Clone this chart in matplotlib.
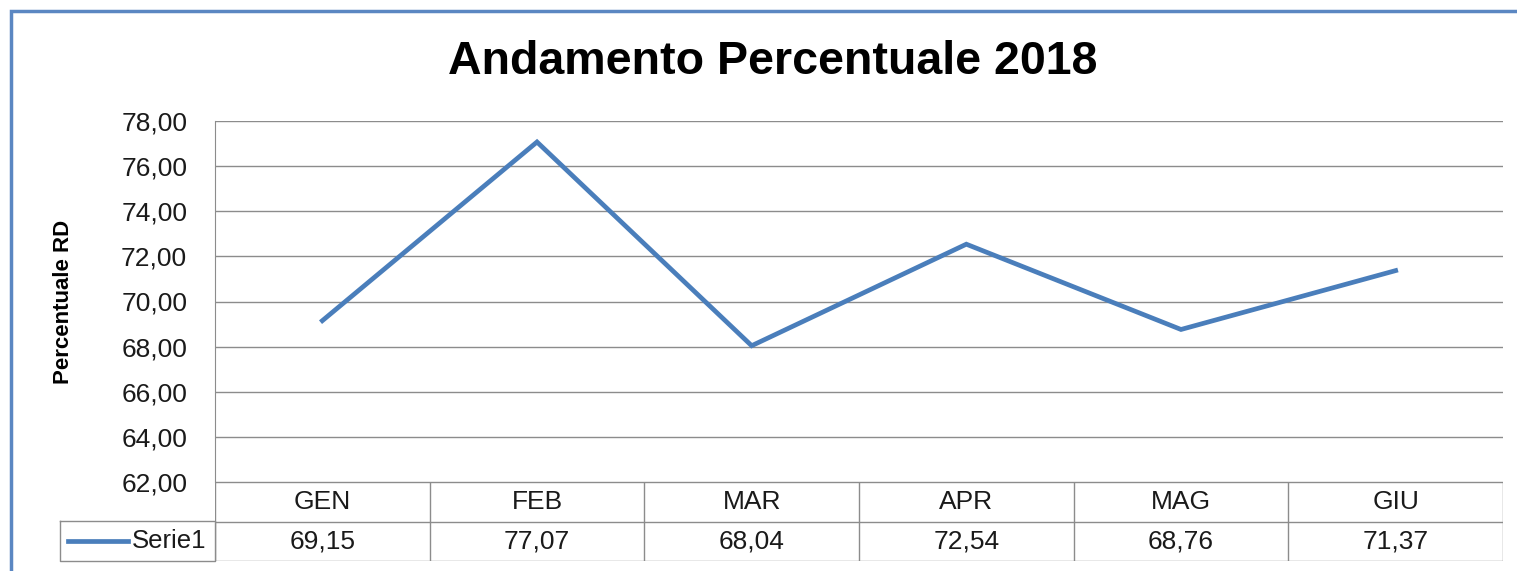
import matplotlib
matplotlib.use('Agg')
import matplotlib.pyplot as plt
from matplotlib.ticker import FuncFormatter, MultipleLocator
from matplotlib.patches import Rectangle
from matplotlib.lines import Line2D

months = ['GEN', 'FEB', 'MAR', 'APR', 'MAG', 'GIU']
serie1 = [69.15, 77.07, 68.04, 72.54, 68.76, 71.37]
series_name = 'Serie1'
title = 'Andamento Percentuale 2018'
ylabel = 'Percentuale RD'

W, H = 1517, 571
LINE_BLUE = '#4A7EBB'
GRID = '#8C8C8C'
TXT = '#1a1a1a'
FS = 19

plt.rcParams['font.family'] = 'Liberation Sans'


def fx(px):
    return px / W


def fy(py):
    return 1 - py / H


def comma(v, _=None):
    return f'{v:.2f}'.replace('.', ',')


fig = plt.figure(figsize=(W / 100, H / 100), dpi=100)

# outer chart frame (runs off the right and bottom edges)
fig.patches.append(Rectangle((fx(11), fy(700)), fx(1600), fy(11) - fy(700),
                             transform=fig.transFigure, fill=False,
                             edgecolor='#5B87C2', linewidth=2.5))

left, right, top, bottom, tbl_bottom = 215, 1503, 121, 482, 561
ax = fig.add_axes([fx(left), fy(bottom), fx(right - left), fy(top) - fy(bottom)])
x = list(range(len(months)))
ax.plot(x, serie1, color=LINE_BLUE, linewidth=3.4, solid_joinstyle='miter')
ax.set_xlim(-0.5, len(months) - 0.5)
ax.set_ylim(62, 78)
ax.yaxis.set_major_locator(MultipleLocator(2))
ax.yaxis.set_major_formatter(FuncFormatter(comma))
ax.grid(axis='y', color=GRID, linewidth=1.0)
ax.set_axisbelow(True)
for s in ['top', 'right', 'bottom']:
    ax.spines[s].set_visible(False)
ax.spines['left'].set_color(GRID)
ax.set_xticks([])
ax.tick_params(axis='y', length=0, pad=20, labelsize=FS, labelcolor=TXT)
ax.set_ylabel(ylabel, fontsize=16, fontweight='bold')
ax.yaxis.set_label_coords((74 - left) / (right - left), 0.5)

fig.text(fx(773), fy(62), title, ha='center', va='center',
         fontsize=33.5, fontweight='bold', color='#000000')

# data table below the plot
tx = fig.add_axes([fx(left), fy(tbl_bottom), fx(right - left), fy(bottom) - fy(tbl_bottom)])
tx.set_xlim(-0.5, len(months) - 0.5)
tx.set_ylim(0, 2)
tx.axis('off')
for yv in (0, 1, 2):
    tx.axhline(yv, color=GRID, linewidth=1.0)
for i in range(len(months) + 1):
    tx.axvline(i - 0.5, color=GRID, linewidth=1.0)
for i, (m, v) in enumerate(zip(months, serie1)):
    tx.text(i, 1.5, m, ha='center', va='center', fontsize=FS, color=TXT)
    tx.text(i, 0.5, comma(v), ha='center', va='center', fontsize=FS, color=TXT)

# legend cell on the left of the value row
row_top, row_bot = 521, tbl_bottom
fig.lines.append(Line2D([fx(60), fx(left), fx(left), fx(60), fx(60)],
                        [fy(row_top), fy(row_top), fy(row_bot), fy(row_bot), fy(row_top)],
                        transform=fig.transFigure, color=GRID, linewidth=1.0))
ym = fy((row_top + row_bot) / 2)
fig.lines.append(Line2D([fx(68), fx(128)], [ym, ym], transform=fig.transFigure,
                        color=LINE_BLUE, linewidth=3.4))
fig.text(fx(132), ym, series_name, ha='left', va='center', fontsize=18.5, color=TXT)

fig.savefig('out.png', dpi=100)
